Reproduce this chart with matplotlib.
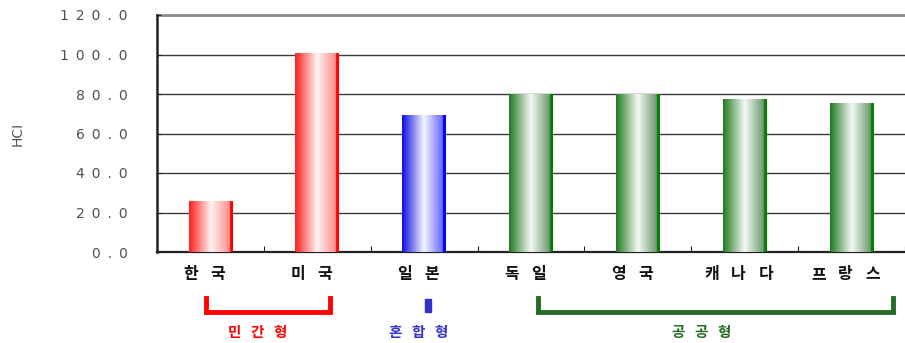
import matplotlib
matplotlib.use('Agg')
import numpy as np
import matplotlib.pyplot as plt
from matplotlib.colors import LinearSegmentedColormap
from matplotlib.patches import Rectangle

plt.rcParams['font.family'] = ['Noto Sans CJK KR', 'DejaVu Sans']

countries = ['한국', '미국', '일본', '독일', '영국', '캐나다', '프랑스']
hci = [25.8, 100.6, 68.9, 80.0, 79.7, 77.0, 75.0]
groups = ['private', 'private', 'mixed', 'public', 'public', 'public', 'public']
yticks = [0, 20, 40, 60, 80, 100, 120]
ytick_labels = ['0.0', '20.0', '40.0', '60.0', '80.0', '100.0', '120.0']
group_names = ['민간형', '혼합형', '공공형']

# gradient stops per group: left, centre, right, edge strip
grad = {
    'private': [(1.0, 0.12, 0.12), (1.0, 0.95, 0.95), (1.0, 0.55, 0.55), (1.0, 0.0, 0.0)],
    'mixed':   [(0.05, 0.05, 0.9), (0.96, 0.96, 1.0), (0.4, 0.4, 1.0), (0.0, 0.0, 1.0)],
    'public':  [(0.13, 0.47, 0.13), (0.96, 0.98, 0.96), (0.42, 0.6, 0.42), (0.0, 0.5, 0.0)],
}

fig = plt.figure(figsize=(9.05, 3.43), dpi=100)
W, H = 905.0, 343.0
ax = fig.add_axes([157 / W, (H - 252) / H, (905 - 157) / W, (252 - 15) / H])

n = len(countries)
step = 108.3
xlim = (-0.5, -0.5 + (905 - 157) / step)

bw = 0.41
g = np.linspace(0, 1, 256).reshape(1, -1)
for i, (v, grp) in enumerate(zip(hci, groups)):
    c0, c1, c2, c3 = grad[grp]
    cmap = LinearSegmentedColormap.from_list(
        grp, [(0.0, c0), (0.5, c1), (0.93, c2), (0.935, c3), (1.0, c3)])
    ax.imshow(g, cmap=cmap, extent=[i - bw / 2, i + bw / 2, 0, v],
              aspect='auto', zorder=3, interpolation='bilinear')
ax.set_xlim(*xlim)
ax.set_ylim(0, 120)

for y in yticks[1:-1]:
    ax.axhline(y, color='#3a3a3a', lw=1.0, zorder=1)
ax.axhline(120, color='#8a8a8a', lw=2.0, zorder=1, clip_on=False)

for s in ['top', 'right']:
    ax.spines[s].set_visible(False)
ax.spines['left'].set_linewidth(1.8)
ax.spines['left'].set_color('#222222')
ax.spines['bottom'].set_linewidth(1.6)
ax.spines['bottom'].set_color('#222222')

ax.set_yticks(yticks)
ax.set_yticklabels(['\u2002'.join(t) for t in ytick_labels], family='DejaVu Sans',
                   fontsize=10, color='#505050')
ax.tick_params(axis='y', direction='in', length=3, pad=21, color='#222222')

ax.set_xticks(np.arange(n) + 0.5)
ax.set_xticklabels([])
ax.tick_params(axis='x', direction='in', length=4, color='#222222')

ax.set_ylabel('HCI', family='DejaVu Sans', fontsize=10, color='#555555')
ax.yaxis.set_label_coords(-132 / (905 - 157), 0.5)


def spaced(xc, y, text, pitch, **kw):
    # place characters one by one with wide letter spacing (pixel coords)
    x0 = xc - pitch * (len(text) - 1) / 2.0
    for k, ch in enumerate(text):
        fig.text((x0 + k * pitch) / W, 1 - y / H, ch, ha='center', va='center', **kw)


fig.canvas.draw()
for i, c in enumerate(countries):
    xc = ax.transData.transform((i, 0))[0] - 6
    spaced(xc, 274, c, 27, fontsize=11.5, fontweight='bold', color='#111111')

# group brackets below the axis (pixel coords)
red, blue, green = '#ff0000', '#3333cc', '#236b23'
for (x0, x1, col) in [(206, 330, red), (538, 893, green)]:
    fig.lines.append(plt.Line2D([x0 / W, x0 / W, x1 / W, x1 / W],
                                [1 - 298 / H, 1 - 312 / H, 1 - 312 / H, 1 - 298 / H],
                                transform=fig.transFigure, color=col, lw=3.5,
                                solid_joinstyle='miter'))
fig.patches.append(Rectangle((425 / W, 1 - 312 / H), 6 / W, 13 / H,
                             transform=fig.transFigure, color=blue))
for (x, name, col) in [(257, group_names[0], red), (418, group_names[1], blue),
                       (701, group_names[2], green)]:
    spaced(x, 332, name, 23, fontsize=10.5, fontweight='bold', color=col)

fig.savefig('out.png', dpi=100)
